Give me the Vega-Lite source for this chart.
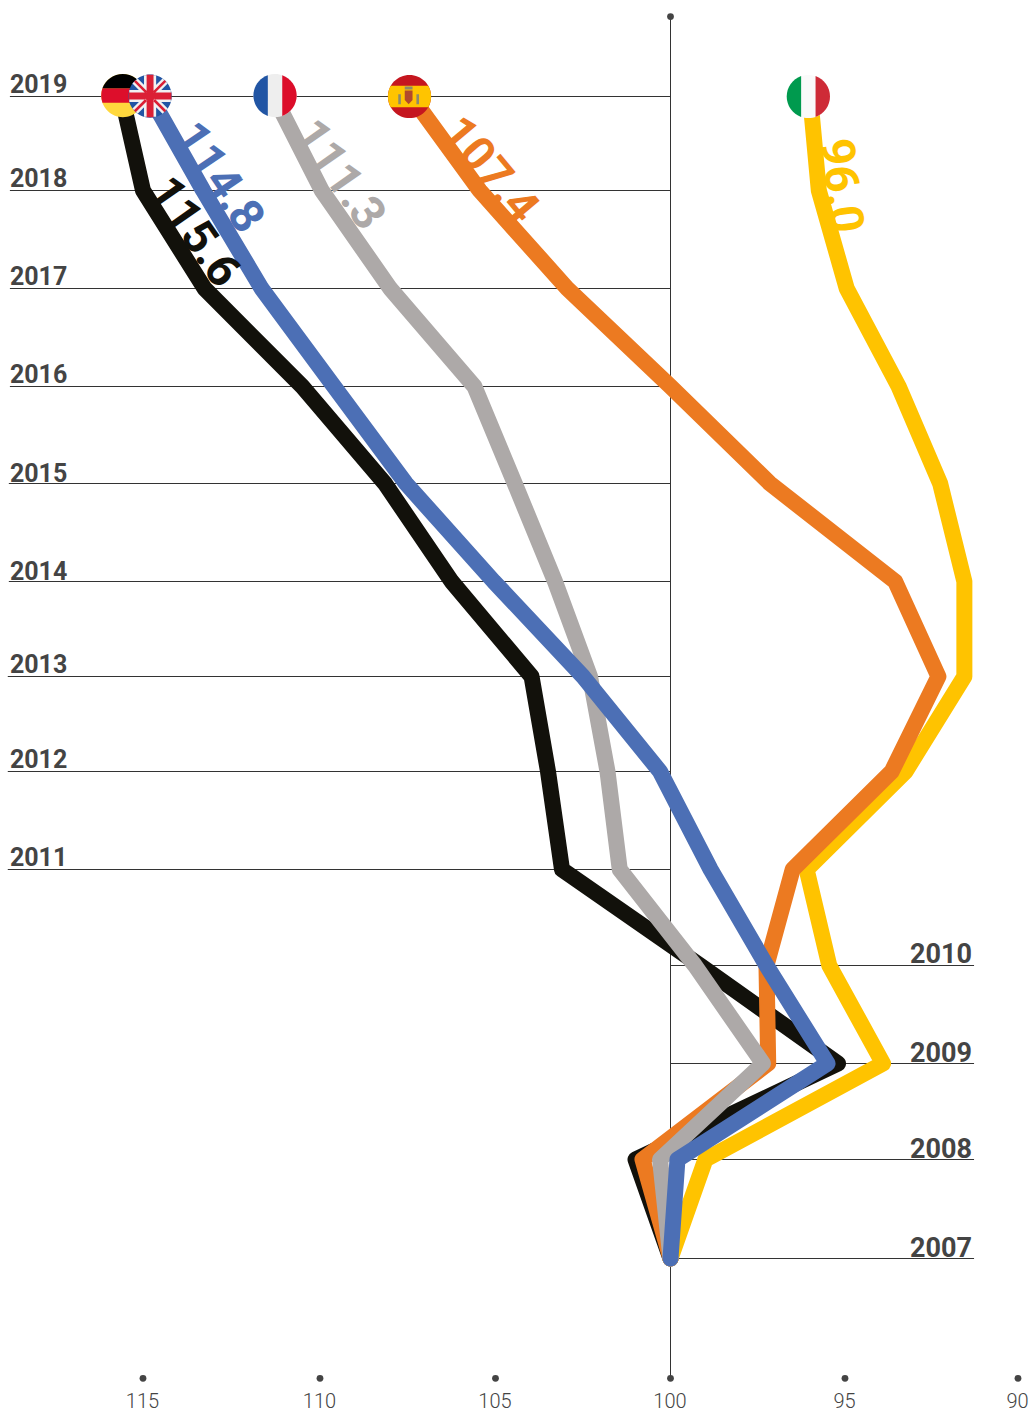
{
"$schema":"https://vega.github.io/schema/vega-lite/v6.json",
"width":1031,"height":1378,
"autosize":{"type":"none"},
"padding":{"left":0,"top":0,"right":0,"bottom":33},
"background":"white",
"config":{"view":{"stroke":null},"font":"Roboto"},
"datasets":{
"grid":[
{"year":2019,"value":118.76,"value2":100},{"year":2018,"value":118.76,"value2":100},{"year":2017,"value":118.76,"value2":100},{"year":2016,"value":118.76,"value2":100},{"year":2015,"value":118.79,"value2":100},{"year":2014,"value":118.79,"value2":100},{"year":2013,"value":118.82,"value2":100},{"year":2012,"value":118.82,"value2":100},{"year":2011,"value":118.82,"value2":100},
{"year":2010,"value":100,"value2":91.27},{"year":2009,"value":100,"value2":91.27},{"year":2008,"value":100,"value2":91.27},{"year":2007,"value":100,"value2":91.27}],
"axisline":[{"value":100,"year":2019.85,"year2":2005.79}],
"dots":[{"value":100,"year":2019.85},{"value":115,"year":2005.79},{"value":110,"year":2005.79},{"value":105,"year":2005.79},{"value":100,"year":2005.79},{"value":95,"year":2005.79},{"value":90,"year":2005.79}],
"left":[{"year":2019,"value":118.76},{"year":2018,"value":118.76},{"year":2017,"value":118.76},{"year":2016,"value":118.76},{"year":2013,"value":118.76},{"year":2012,"value":118.76},{"year":2011,"value":118.76}],
"left2":[{"year":2015,"value":118.76},{"year":2014,"value":118.76}],
"right":[{"year":2010,"value":91.33}],
"right2":[{"year":2009,"value":91.33},{"year":2008,"value":91.33},{"year":2007,"value":91.33}],
"series":[
{"country":"Germany","year":2019,"value":115.6},{"country":"Germany","year":2018,"value":115.0},{"country":"Germany","year":2017,"value":113.26},{"country":"Germany","year":2016,"value":110.5},{"country":"Germany","year":2015,"value":108.15},{"country":"Germany","year":2014,"value":106.25},{"country":"Germany","year":2013,"value":103.97},{"country":"Germany","year":2012,"value":103.5},{"country":"Germany","year":2011,"value":103.1},{"country":"Germany","year":2010,"value":99.15},{"country":"Germany","year":2009,"value":95.2},{"country":"Germany","year":2008,"value":101.0},{"country":"Germany","year":2007,"value":100},
{"country":"Italy","year":2019,"value":96.0},{"country":"Italy","year":2018,"value":95.75},{"country":"Italy","year":2017,"value":94.95},{"country":"Italy","year":2016,"value":93.45},{"country":"Italy","year":2015,"value":92.25},{"country":"Italy","year":2014,"value":91.55},{"country":"Italy","year":2013,"value":91.55},{"country":"Italy","year":2012,"value":93.25},{"country":"Italy","year":2011,"value":96.1},{"country":"Italy","year":2010,"value":95.45},{"country":"Italy","year":2009,"value":93.9},{"country":"Italy","year":2008,"value":99.0},{"country":"Italy","year":2007,"value":100},
{"country":"Spain","year":2019,"value":107.4},{"country":"Spain","year":2018,"value":105.45},{"country":"Spain","year":2017,"value":102.95},{"country":"Spain","year":2016,"value":100},{"country":"Spain","year":2015,"value":97.15},{"country":"Spain","year":2014,"value":93.55},{"country":"Spain","year":2013,"value":92.3},{"country":"Spain","year":2012,"value":93.65},{"country":"Spain","year":2011,"value":96.5},{"country":"Spain","year":2010,"value":97.25},{"country":"Spain","year":2009,"value":97.2},{"country":"Spain","year":2008,"value":100.8},{"country":"Spain","year":2007,"value":100},
{"country":"France","year":2019,"value":111.3},{"country":"France","year":2018,"value":109.95},{"country":"France","year":2017,"value":108.0},{"country":"France","year":2016,"value":105.6},{"country":"France","year":2015,"value":104.45},{"country":"France","year":2014,"value":103.3},{"country":"France","year":2013,"value":102.3},{"country":"France","year":2012,"value":101.8},{"country":"France","year":2011,"value":101.45},{"country":"France","year":2010,"value":99.3},{"country":"France","year":2009,"value":97.35},{"country":"France","year":2008,"value":100.3},{"country":"France","year":2007,"value":100},
{"country":"UK","year":2019,"value":114.8},{"country":"UK","year":2018,"value":113.3},{"country":"UK","year":2017,"value":111.65},{"country":"UK","year":2016,"value":109.6},{"country":"UK","year":2015,"value":107.55},{"country":"UK","year":2014,"value":105.05},{"country":"UK","year":2013,"value":102.5},{"country":"UK","year":2012,"value":100.3},{"country":"UK","year":2011,"value":98.85},{"country":"UK","year":2010,"value":97.25},{"country":"UK","year":2009,"value":95.5},{"country":"UK","year":2008,"value":99.8},{"country":"UK","year":2007,"value":100}],
"flags":[
{"country":"Germany","piece":"de-yellow","value":115.57,"year":2019.01},{"country":"Germany","piece":"de-red","value":115.57,"year":2019.01},{"country":"Germany","piece":"de-black","value":115.57,"year":2019.01},
{"country":"UK","piece":"uk-blue","value":114.8,"year":2019.005},{"country":"UK","piece":"uk-white","value":114.8,"year":2019.005},{"country":"UK","piece":"uk-red","value":114.8,"year":2019.005},
{"country":"France","piece":"fr-white","value":111.27,"year":2019.01},{"country":"France","piece":"fr-blue","value":111.27,"year":2019.01},{"country":"France","piece":"fr-red","value":111.27,"year":2019.01},
{"country":"Spain","piece":"es-red","value":107.45,"year":2019},{"country":"Spain","piece":"es-yellow","value":107.45,"year":2019},{"country":"Spain","piece":"es-shield","value":107.45,"year":2019},{"country":"Spain","piece":"es-pillars","value":107.45,"year":2019},
{"country":"Italy","piece":"it-white","value":96.05,"year":2019},{"country":"Italy","piece":"it-green","value":96.05,"year":2019},{"country":"Italy","piece":"it-red","value":96.05,"year":2019}],
"labels":[{"country":"Germany","value":115.6,"year":2019,"label":"115.6"},{"country":"UK","value":114.8,"year":2019,"label":"114.8"},{"country":"France","value":111.3,"year":2019,"label":"111.3"},{"country":"Spain","value":107.4,"year":2019,"label":"107.4"},{"country":"Italy","value":96.0,"year":2019,"label":"96.0"}]
},
"encoding":{
"x":{"field":"value","type":"quantitative","title":null,
 "scale":{"domain":[115,110,105,100,95,90],"range":[143,320,495.5,670.5,845,1018],"nice":false,"zero":false},
 "axis":{"values":[115,110,105,100,95,90],"orient":"bottom","grid":false,"ticks":false,"domain":false,"labelFont":"Roboto","labelFontWeight":300,"labelFontSize":20,"labelColor":"#444444","labelPadding":13,"labelOffset":-1,"labelFlush":false,"labelOverlap":false,"title":null}},
"y":{"field":"year","type":"quantitative","title":null,
 "scale":{"domain":[2019,2018,2017,2016,2015,2014,2013,2012,2011,2010,2009,2008,2007],"range":[96.5,190.5,288.5,386.5,483.5,581.5,676.5,771.5,869.5,965.5,1063.5,1159.5,1258.5],"nice":false,"zero":false},
 "axis":null}
},
"layer":[
{"data":{"name":"grid"},"mark":{"type":"rule","stroke":"#333333","strokeWidth":1},"encoding":{"x2":{"field":"value2"}}},
{"data":{"name":"axisline"},"mark":{"type":"rule","stroke":"#333333","strokeWidth":1},"encoding":{"y2":{"field":"year2"}}},
{"data":{"name":"dots"},"mark":{"type":"point","filled":true,"size":46,"fill":"#444444","opacity":1,"stroke":null}},
{"data":{"name":"left"},"mark":{"type":"text","align":"left","baseline":"alphabetic","dy":-4,"font":"Roboto","fontWeight":700,"fontSize":25,"fill":"#444444"},"encoding":{"text":{"field":"year","type":"quantitative","format":"d"}}},
{"data":{"name":"left2"},"mark":{"type":"text","align":"left","baseline":"alphabetic","dy":-2,"font":"Roboto","fontWeight":700,"fontSize":25,"fill":"#444444"},"encoding":{"text":{"field":"year","type":"quantitative","format":"d"}}},
{"data":{"name":"right"},"mark":{"type":"text","align":"right","baseline":"alphabetic","dy":-3,"font":"Roboto","fontWeight":700,"fontSize":27,"fill":"#444444"},"encoding":{"text":{"field":"year","type":"quantitative","format":"d"}}},
{"data":{"name":"right2"},"mark":{"type":"text","align":"right","baseline":"alphabetic","dy":-2,"font":"Roboto","fontWeight":700,"fontSize":27,"fill":"#444444"},"encoding":{"text":{"field":"year","type":"quantitative","format":"d"}}},
{"data":{"name":"series"},"mark":{"type":"line","strokeWidth":16,"strokeJoin":"round","strokeCap":"round"},"encoding":{
 "order":{"field":"year","type":"quantitative"},
 "color":{"field":"country","type":"nominal","legend":null,"scale":{"domain":["Germany","UK","France","Spain","Italy"],"range":["#12110B","#4C6FB5","#ADA9A8","#EC7A21","#FFC300"]}}}},
{"data":{"name":"labels"},"transform":[{"filter":"datum.country==='Germany'"}],"mark":{"type":"text","align":"left","baseline":"alphabetic","angle":55,"dx":92,"dy":33,"font":"Roboto","fontWeight":700,"fontSize":47,"fill":"#12110B"},"encoding":{"text":{"field":"label"}}},
{"data":{"name":"labels"},"transform":[{"filter":"datum.country==='UK'"}],"mark":{"type":"text","align":"left","baseline":"alphabetic","angle":56,"dx":45,"dy":3,"font":"Roboto","fontWeight":700,"fontSize":47,"fill":"#4C6FB5"},"encoding":{"text":{"field":"label"}}},
{"data":{"name":"labels"},"transform":[{"filter":"datum.country==='France'"}],"mark":{"type":"text","align":"left","baseline":"alphabetic","angle":55,"dx":41,"dy":6,"font":"Roboto","fontWeight":700,"fontSize":47,"fill":"#ADA9A8"},"encoding":{"text":{"field":"label"}}},
{"data":{"name":"labels"},"transform":[{"filter":"datum.country==='Spain'"}],"mark":{"type":"text","align":"left","baseline":"alphabetic","angle":50,"dx":46,"dy":2,"font":"Roboto","fontWeight":700,"fontSize":47,"fill":"#EC7A21"},"encoding":{"text":{"field":"label"}}},
{"data":{"name":"labels"},"transform":[{"filter":"datum.country==='Italy'"}],"mark":{"type":"text","align":"left","baseline":"alphabetic","angle":83,"dx":45,"dy":-5,"font":"Roboto","fontWeight":700,"fontSize":47,"fill":"#FFC300"},"encoding":{"text":{"field":"label"}}},
{"data":{"name":"flags"},"mark":{"type":"point","filled":true,"size":1870,"opacity":1,"stroke":null},"encoding":{
 "shape":{"field":"piece","type":"nominal","legend":null,"scale":{
  "domain":["de-yellow","de-red","de-black","uk-blue","uk-white","uk-red","fr-white","fr-blue","fr-red","es-red","es-yellow","es-shield","es-pillars","it-white","it-green","it-red"],
  "range":[
  "M-1,0A1,1,0,1,1,1,0A1,1,0,1,1,-1,0Z",
  "M-0.943,-0.333L0.943,-0.333A1,1,0,0,1,0.943,0.333L-0.943,0.333A1,1,0,0,1,-0.943,-0.333Z",
  "M-0.943,-0.333A1,1,0,0,1,0.943,-0.333Z",
  "M-1,0A1,1,0,1,1,1,0A1,1,0,1,1,-1,0Z",
  "M-0.576,-0.816L0.816,0.576L0.576,0.816L-0.816,-0.576ZM0.576,-0.816L0.816,-0.576L-0.576,0.816L-0.816,0.576ZM-0.28,-0.96L0.28,-0.96L0.28,0.96L-0.28,0.96ZM-0.96,-0.28L0.96,-0.28L0.96,0.28L-0.96,0.28Z",
  "M-0.663,-0.747L-0.13,-0.214L-0.214,-0.13L-0.747,-0.663ZM0.13,0.214L0.663,0.747L0.747,0.663L0.214,0.13ZM0.663,-0.747L0.747,-0.663L0.214,-0.13L0.13,-0.214ZM-0.13,0.214L-0.214,0.13L-0.747,0.663L-0.663,0.747ZM-0.16,-0.987L0.16,-0.987L0.16,0.987L-0.16,0.987ZM-0.987,-0.16L0.987,-0.16L0.987,0.16L-0.987,0.16Z",
  "M-1,0A1,1,0,1,1,1,0A1,1,0,1,1,-1,0Z",
  "M-0.333,-0.943A1,1,0,0,0,-0.333,0.943Z",
  "M0.333,-0.943A1,1,0,0,1,0.333,0.943Z",
  "M-1,0A1,1,0,1,1,1,0A1,1,0,1,1,-1,0Z",
  "M-0.866,-0.5L0.866,-0.5A1,1,0,0,1,0.866,0.5L-0.866,0.5A1,1,0,0,1,-0.866,-0.5Z",
  "M-0.22,-0.28L0.14,-0.28L0.14,0.16L-0.04,0.36L-0.22,0.16Z",
  "M-0.52,-0.1L-0.4,-0.1L-0.4,0.36L-0.52,0.36ZM0.32,-0.1L0.44,-0.1L0.44,0.36L0.32,0.36ZM-0.22,-0.46L0.14,-0.46L0.14,-0.32L-0.22,-0.32Z",
  "M-1,0A1,1,0,1,1,1,0A1,1,0,1,1,-1,0Z",
  "M-0.333,-0.943A1,1,0,0,0,-0.333,0.943Z",
  "M0.333,-0.943A1,1,0,0,1,0.333,0.943Z"]}},
 "fill":{"field":"piece","type":"nominal","legend":null,"scale":{
  "domain":["de-yellow","de-red","de-black","uk-blue","uk-white","uk-red","fr-white","fr-blue","fr-red","es-red","es-yellow","es-shield","es-pillars","it-white","it-green","it-red"],
  "range":["#FFD83D","#DD0E2B","#000000","#2255A4","#F1F1F1","#DB1F35","#EEEEEE","#2155A4","#DC0D2A","#C5161F","#FFC400","#B2492C","#8C8A6E","#FAFAFA","#009A4E","#CE2B37"]}}}}
]
}
